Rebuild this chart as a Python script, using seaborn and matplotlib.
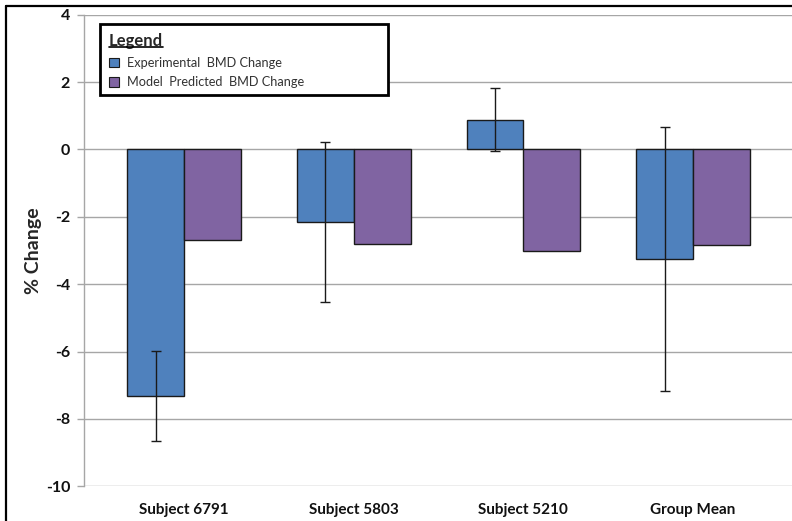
import matplotlib
matplotlib.use("Agg")
import matplotlib.pyplot as plt
from matplotlib.lines import Line2D
from matplotlib.patches import Rectangle
import seaborn as sns
import pandas as pd

# Data
categories = ["Subject 6791", "Subject 5803", "Subject 5210", "Group Mean"]
series_names = ["Experimental  BMD Change", "Model  Predicted  BMD Change"]
experimental = [-7.31, -2.16, 0.88, -3.26]
experimental_err = [1.34, 2.38, 0.93, 3.92]
predicted = [-2.69, -2.81, -3.02, -2.85]
y_ticks = [4, 2, 0, -2, -4, -6, -8, -10]

colors = ["#4F81BD", "#8064A2"]

df = pd.DataFrame({
    "category": categories * 2,
    "series": [series_names[0]] * 4 + [series_names[1]] * 4,
    "value": experimental + predicted,
})

sns.set_theme(style="white")
plt.rcParams["font.family"] = ["Lato", "DejaVu Sans"]

W, H = 792, 521
fig = plt.figure(figsize=(W / 100, H / 100), dpi=100)
ax = fig.add_axes([84 / W, 1 - 486.3 / H, 1 - 84 / W, (486.3 - 14.7) / H])

sns.barplot(data=df, x="category", y="value", hue="series", order=categories,
            hue_order=series_names, palette=colors, width=0.67, saturation=1,
            edgecolor="#1a1a1a", linewidth=1.0, ax=ax, zorder=3, legend=True)

# Error bars on the experimental series
bars = ax.containers[0]
xs = [b.get_x() + b.get_width() / 2 for b in bars]
ax.errorbar(xs, experimental, yerr=experimental_err, fmt="none", ecolor="#1a1a1a",
            elinewidth=1.0, capsize=3.5, capthick=1.0, zorder=4)

ax.set_ylim(-10, 4)
ax.set_yticks(y_ticks)
ax.set_yticklabels([str(t) for t in y_ticks], fontsize=11.5, fontweight="bold")
ax.set_xlim(-0.589, 3.583)
ax.set_xlabel("")
ax.set_ylabel("% Change", fontsize=14, fontweight="bold", labelpad=3)
for lbl in ax.get_xticklabels():
    lbl.set_fontsize(11)
    lbl.set_fontweight("bold")

ax.yaxis.grid(True, color="#a6a6a6", linewidth=1.0, zorder=0)
ax.set_axisbelow(True)
ax.tick_params(axis="y", which="both", left=True, length=5, color="#a6a6a6",
               width=1.0, pad=5, labelcolor="#111111")
ax.tick_params(axis="x", bottom=False, pad=6, labelcolor="#111111")
for side in ["top", "right", "bottom"]:
    ax.spines[side].set_visible(False)
ax.spines["left"].set_color("#a6a6a6")
ax.spines["left"].set_linewidth(1.0)

# Legend (frame drawn separately as a fixed box)
handles, labels = ax.get_legend_handles_labels()
if ax.get_legend():
    ax.get_legend().remove()
leg = fig.legend(handles, labels, title="Legend", loc="upper left",
                 bbox_to_anchor=(109 / W, 1 - 33 / H),
                 frameon=False, fontsize=9.2,
                 title_fontproperties={"weight": "bold", "size": 12},
                 alignment="left", handlelength=0.75, handleheight=0.75,
                 handletextpad=0.65, borderpad=0, labelspacing=0.6,
                 borderaxespad=0)
leg.set_zorder(6)
for t in leg.get_texts():
    t.set_color("#333333")
for h in leg.legend_handles:
    h.set_edgecolor("#1a1a1a")
    h.set_linewidth(0.8)

fig.add_artist(Rectangle((100 / W, 1 - 95 / H), 288 / W, 71 / H,
                         transform=fig.transFigure, facecolor="white",
                         edgecolor="black", linewidth=2.0, zorder=5))

# Underline the legend title
fig.canvas.draw()
renderer = fig.canvas.get_renderer()
tb = leg.get_title().get_window_extent(renderer)
inv = fig.transFigure.inverted()
(x0, y0), (x1, _) = inv.transform([(tb.x0, tb.y0 + 2), (tb.x1, tb.y0 + 2)])
fig.add_artist(Line2D([x0, x1], [y0, y0], color="black", linewidth=1.2,
                      transform=fig.transFigure, zorder=10))

# Outer chart frame (left and top edges)
fig.add_artist(Line2D([5.5 / W, 5.5 / W], [0, 1 - 5.5 / H], color="black",
                      linewidth=1.6, transform=fig.transFigure))
fig.add_artist(Line2D([5.5 / W, 1], [1 - 5.5 / H, 1 - 5.5 / H], color="black",
                      linewidth=1.6, transform=fig.transFigure))

fig.savefig("out.png", dpi=100)
